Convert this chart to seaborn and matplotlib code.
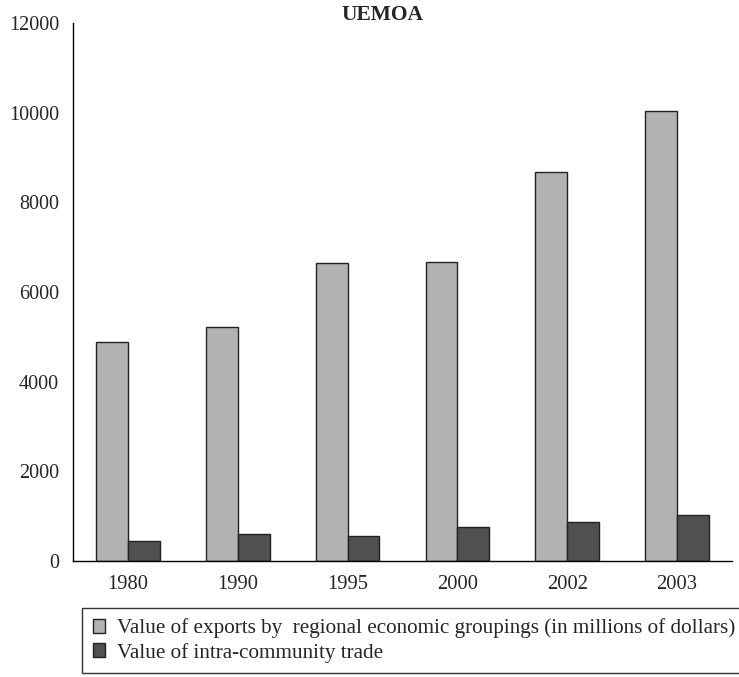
import numpy as np
import pandas as pd
import matplotlib
matplotlib.use('Agg')
import matplotlib.pyplot as plt
import seaborn as sns

years = ['1980', '1990', '1995', '2000', '2002', '2003']
exports = [4890, 5210, 6640, 6670, 8670, 10040]
intra = [440, 600, 550, 750, 860, 1030]
series = ['Value of exports by  regional economic groupings (in millions of dollars)',
          'Value of intra-community trade']

df = pd.DataFrame({
    'year': years * 2,
    'value': exports + intra,
    'series': [series[0]] * len(years) + [series[1]] * len(years),
})

sns.set_style('white')
plt.rcParams['font.family'] = ['Liberation Serif', 'DejaVu Serif']

fig = plt.figure(figsize=(7.39, 6.77), dpi=100)
ax = fig.add_axes([73 / 739, 1 - 561 / 677, (732 - 73) / 739, (561 - 23) / 677])

sns.barplot(data=df, x='year', y='value', hue='series', order=years,
            palette=['#b2b2b2', '#505050'], width=0.58,
            edgecolor='#222222', linewidth=1, ax=ax, legend=True)

# axes styling
ax.set_xlim(-0.5, len(years) - 0.5)
ax.set_ylim(0, 12000)
ax.set_yticks(np.arange(0, 12001, 2000))
ax.set_xticks(np.arange(-0.5, len(years), 1))
ax.set_xticklabels([])
ax.set_xticks(np.arange(len(years)), minor=True)
ax.set_xticklabels(years, minor=True)
ax.tick_params(axis='x', which='major', direction='out', length=6, width=1, color='black')
ax.tick_params(axis='x', which='minor', length=0, pad=10, labelsize=14.8)
ax.tick_params(axis='y', direction='out', length=6, width=1, color='black', labelsize=14.5, pad=4)
for s in ['top', 'right']:
    ax.spines[s].set_visible(False)
for s in ['left', 'bottom']:
    ax.spines[s].set_color('black')
    ax.spines[s].set_linewidth(1)
ax.set_xlabel('')
ax.set_ylabel('')

fig.text(382 / 739, 1 - 15 / 677, 'UEMOA', ha='center', va='center',
         fontsize=15.5, fontweight='bold')

leg = ax.legend(loc='upper left', bbox_to_anchor=(82 / 739, 1 - 608 / 677),
                bbox_transform=fig.transFigure, fontsize=15.2, frameon=True,
                fancybox=False, handlelength=0.6, handleheight=0.6,
                handletextpad=0.55, borderpad=0.5, labelspacing=0.2,
                borderaxespad=0)
leg.get_frame().set_edgecolor('black')
leg.get_frame().set_linewidth(1)

fig.savefig('out.png', dpi=100)
